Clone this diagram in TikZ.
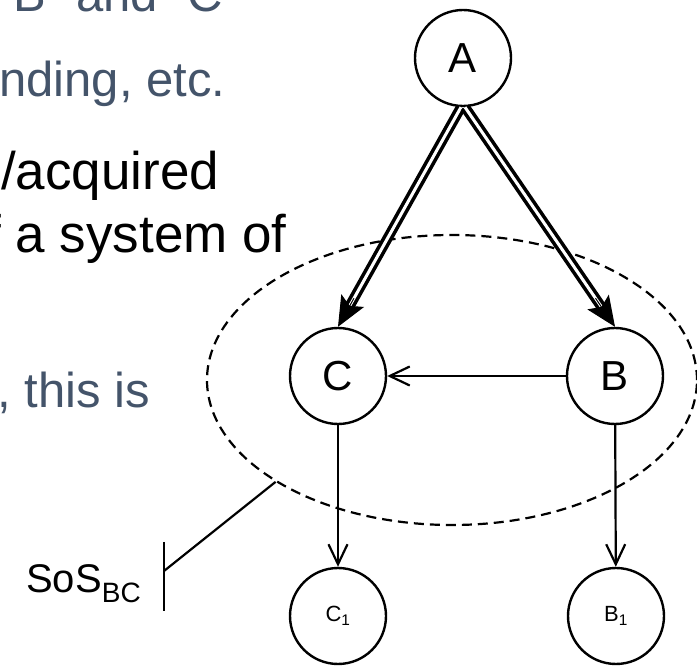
\documentclass[tikz,border=0pt]{standalone}
\usepackage{fontspec}
\setmainfont{Liberation Sans}
\usetikzlibrary{arrows.meta,shapes.geometric}
\definecolor{slate}{RGB}{68,84,106}
\begin{document}
\begin{tikzpicture}[x=1pt,y=-1pt,
  state/.style={circle,draw,line width=2.4pt,minimum size=96pt,inner sep=0pt,font=\fontsize{42}{42}\selectfont},
  leaf/.style={circle,draw,line width=2.4pt,minimum size=96pt,inner sep=0pt,font=\fontsize{22}{22}\selectfont},
  sub/.style={-{Straight Barb[length=20pt,width=19pt]},line width=2.2pt},
  dbl/.style={line width=3.6pt,double distance=3pt,shorten >=20pt},
  head/.style={-{Stealth[length=30pt,width=26pt,inset=6pt]},line width=1pt},
  grey/.style={text=slate,anchor=base west,inner sep=0pt,font=\fontsize{49}{49}\selectfont},
  blk/.style={text=black,anchor=base west,inner sep=0pt,font=\fontsize{53}{53}\selectfont},
  group/.style={ellipse,draw,dash pattern=on 10pt off 6pt,line width=2.2pt,inner sep=0pt},
  plain/.style={line width=2.2pt}
]
\useasboundingbox (0,0) rectangle (697,668);
\clip (0,0) rectangle (697,668);
% left slide text
\node[grey] (t1) at (-3,12) {“B” and “C”};
\node[grey] (t2) at (-1,97) {nding, etc.};
\node[blk] (t3) at (1,190) {/acquired};
\node[blk] (t4) at (-14,253) {f a system of};
\node[grey] (t5) at (-3,408) {, this is};
% group ellipse
\node[group,minimum width=490pt,minimum height=290pt] (E) at (452,380) {};
% nodes
\node[state] (A) at (463,58) {A};
\node[state] (C) at (338,376) {C};
\node[state] (B) at (615,376) {B};
\node[leaf] (C1) at (338,616) {C\textsubscript{1}};
\node[leaf] (B1) at (616,616) {B\textsubscript{1}};
% double arrows
\draw[dbl] ([xshift=-2pt]A.south) -- (C.north);
\path ([xshift=-2pt]A.south) -- (C.north) coordinate[pos=0.87] (ac);
\draw[head] (ac) -- (C.north);
\draw[dbl] ([xshift=2pt]A.south) -- (B.north);
\path ([xshift=2pt]A.south) -- (B.north) coordinate[pos=0.87] (ab);
\draw[head] (ab) -- (B.north);
% single arrows
\draw[sub] (B) -- (C);
\draw[sub] (C) -- (C1);
\draw[sub] (B) -- (B1);
% SoS label
\coordinate (bt) at (164,542);
\coordinate (bb) at (164,611);
\coordinate (bm) at (164,571);
\draw[plain] (bt) -- (bb);
\draw[plain] (bm) -- (E.210);
\node[anchor=base east,inner sep=0pt] (sos) at (141,592) {\fontsize{40}{40}\selectfont SoS\raisebox{-10pt}{\fontsize{28}{28}\selectfont BC}};
\end{tikzpicture}
\end{document}
